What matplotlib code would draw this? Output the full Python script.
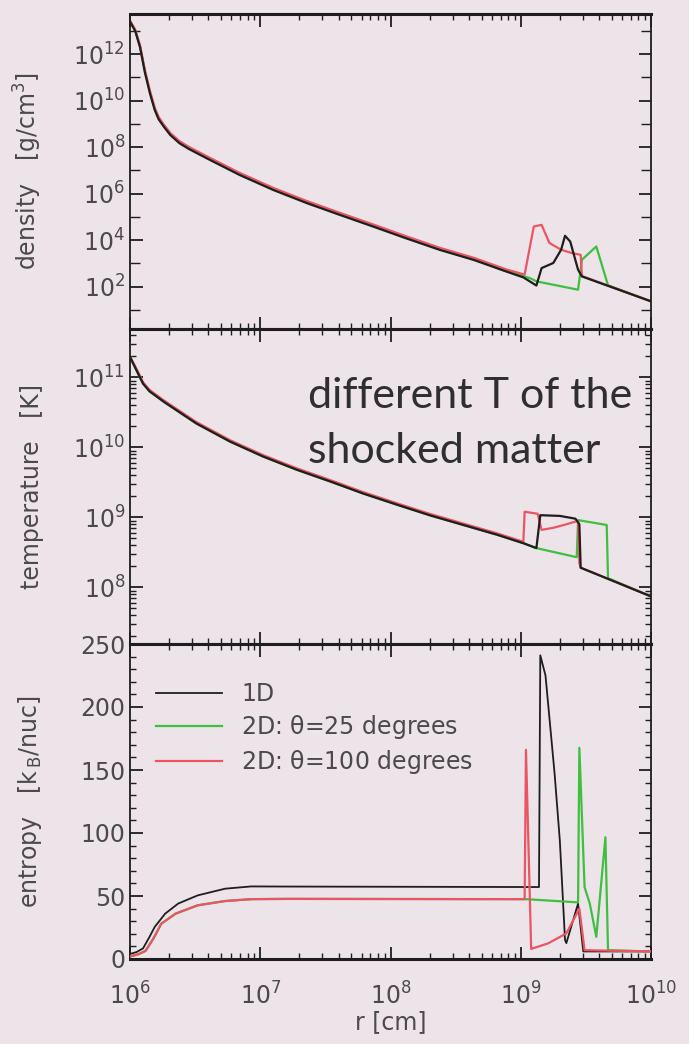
import numpy as np
import matplotlib
matplotlib.use("Agg")
import matplotlib.pyplot as plt
from matplotlib.ticker import LogLocator, FixedLocator, MultipleLocator, NullFormatter, FuncFormatter

# ---------------- data (log10 r [cm]) ----------------
# density (log10 rho [g/cm^3])
dens_1d_lr  = [6.0, 6.04, 6.077, 6.115, 6.154, 6.19, 6.22, 6.26, 6.31, 6.38, 6.45, 6.59, 6.84, 7.10, 7.36, 7.61, 7.87, 8.12, 8.38, 8.64, 8.89, 9.02, 9.12, 9.16, 9.25, 9.31, 9.34, 9.38, 9.44, 9.47, 10.0]
dens_1d     = [13.4, 13.0, 12.3, 11.2, 10.3, 9.6, 9.2, 8.88, 8.52, 8.17, 7.93, 7.52, 6.81, 6.16, 5.59, 5.09, 4.58, 4.08, 3.58, 3.15, 2.65, 2.40, 2.05, 2.80, 3.02, 3.59, 4.19, 3.94, 2.73, 2.44, 1.37]
dens_25_lr  = [6.0, 6.04, 6.077, 6.115, 6.154, 6.19, 6.22, 6.26, 6.31, 6.38, 6.45, 6.59, 6.84, 7.10, 7.36, 7.61, 7.87, 8.12, 8.38, 8.64, 8.89, 9.07, 9.12, 9.44, 9.47, 9.58, 9.67, 10.0]
dens_25     = [13.42, 13.03, 12.34, 11.25, 10.35, 9.65, 9.25, 8.92, 8.56, 8.21, 7.97, 7.56, 6.85, 6.2, 5.63, 5.13, 4.62, 4.12, 3.62, 3.19, 2.69, 2.37, 2.23, 1.87, 3.16, 3.73, 2.06, 1.37]
dens_100_lr = [6.0, 6.04, 6.077, 6.115, 6.154, 6.19, 6.22, 6.26, 6.31, 6.38, 6.45, 6.59, 6.84, 7.10, 7.36, 7.61, 7.87, 8.12, 8.38, 8.64, 8.89, 9.03, 9.10, 9.16, 9.22, 9.31, 9.39, 9.46, 9.47, 10.0]
dens_100    = [13.45, 13.05, 12.38, 11.3, 10.4, 9.7, 9.3, 8.97, 8.61, 8.26, 8.02, 7.61, 6.9, 6.25, 5.68, 5.18, 4.67, 4.17, 3.67, 3.24, 2.74, 2.52, 4.59, 4.66, 3.88, 3.59, 3.45, 3.37, 2.46, 1.37]

# temperature (log10 T [K])
temp_1d_lr  = [6.0, 6.05, 6.10, 6.15, 6.26, 6.51, 6.77, 7.02, 7.28, 7.54, 7.79, 8.05, 8.30, 8.56, 8.82, 9.02, 9.12, 9.15, 9.3, 9.42, 9.45, 9.46, 10.0]
temp_1d     = [11.29, 11.10, 10.91, 10.8, 10.65, 10.34, 10.08, 9.87, 9.68, 9.51, 9.34, 9.18, 9.03, 8.89, 8.75, 8.63, 8.56, 9.03, 9.02, 8.98, 8.9, 8.28, 7.87]
temp_25_lr  = [6.0, 6.05, 6.10, 6.15, 6.26, 6.51, 6.77, 7.02, 7.28, 7.54, 7.79, 8.05, 8.30, 8.56, 8.82, 9.02, 9.12, 9.43, 9.44, 9.66, 9.67, 10.0]
temp_25     = [11.29, 11.10, 10.91, 10.8, 10.65, 10.34, 10.08, 9.87, 9.68, 9.51, 9.34, 9.18, 9.03, 8.89, 8.75, 8.63, 8.56, 8.43, 8.96, 8.89, 8.13, 7.87]
temp_100_lr = [6.0, 6.05, 6.10, 6.15, 6.26, 6.51, 6.77, 7.02, 7.28, 7.54, 7.79, 8.05, 8.30, 8.56, 8.82, 9.02, 9.03, 9.13, 9.16, 9.25, 9.35, 9.44, 9.45, 9.46, 10.0]
temp_100    = [11.30, 11.12, 10.93, 10.82, 10.67, 10.36, 10.1, 9.89, 9.7, 9.53, 9.36, 9.2, 9.05, 8.91, 8.77, 8.65, 9.08, 9.05, 8.82, 8.85, 8.9, 8.95, 8.35, 8.28, 7.87]

# entropy (k_B / nucleon)
ent_1d_lr  = [6.0, 6.05, 6.10, 6.15, 6.19, 6.27, 6.37, 6.52, 6.73, 6.93, 7.2, 9.14, 9.15, 9.19, 9.26, 9.30, 9.34, 9.35, 9.44, 9.48, 10.0]
ent_1d     = [4, 5.5, 8.4, 17.6, 25.5, 36, 44, 50.5, 55.8, 57.6, 57.5, 57.1, 241, 225, 147, 94, 15, 12.6, 44, 6, 6]
ent_25_lr  = [6.0, 6.07, 6.12, 6.18, 6.24, 6.35, 6.52, 6.73, 6.93, 7.2, 9.04, 9.43, 9.44, 9.45, 9.49, 9.53, 9.58, 9.65, 9.67, 10.0]
ent_25     = [2, 4, 6.5, 16.3, 28, 36, 42.6, 46, 47.5, 47.7, 47.5, 45, 45, 167.6, 57, 44, 17.6, 96.6, 7, 6]
ent_100_lr = [6.0, 6.07, 6.12, 6.18, 6.24, 6.35, 6.52, 6.73, 6.93, 7.2, 9.03, 9.04, 9.08, 9.21, 9.35, 9.45, 9.49, 10.0]
ent_100    = [2, 4, 6.5, 16.3, 28, 36, 42.6, 46, 47.5, 47.7, 47.5, 166, 8, 12.4, 20.3, 40, 7, 6]

series_labels = ["1D", r"2D: $\theta$=25 degrees", r"2D: $\theta$=100 degrees"]
xtick_exps = [6, 7, 8, 9, 10]

# ---------------- style ----------------
BG = "#ece4e9"
C_BLACK = "#1e1e1e"
C_GREEN = "#3fbf3f"
C_RED = "#ea5563"
TXT = "#4a4a4a"

plt.rcParams['font.family'] = ['DejaVu Sans']
plt.rcParams['mathtext.default'] = 'regular'

fig = plt.figure(figsize=(6.89, 10.44), dpi=100, facecolor=BG)
L, W = 130/689, 521/689
H = 315/1044
ax1 = fig.add_axes([L, 1 - 329/1044, W, H])
ax2 = fig.add_axes([L, 1 - 644/1044, W, H])
ax3 = fig.add_axes([L, 1 - 959/1044, W, H])

def p(v):
    return [10.0**x for x in v]

lw = 1.6
# density
ax1.plot(p(dens_25_lr), p(dens_25), color=C_GREEN, lw=lw)
ax1.plot(p(dens_100_lr), p(dens_100), color=C_RED, lw=lw)
ax1.plot(p(dens_1d_lr), p(dens_1d), color=C_BLACK, lw=lw)
# temperature
ax2.plot(p(temp_25_lr), p(temp_25), color=C_GREEN, lw=lw)
ax2.plot(p(temp_100_lr), p(temp_100), color=C_RED, lw=lw)
ax2.plot(p(temp_1d_lr), p(temp_1d), color=C_BLACK, lw=lw)
# entropy
l1, = ax3.plot(p(ent_1d_lr), ent_1d, color=C_BLACK, lw=1.3, label=series_labels[0], zorder=2)
l2, = ax3.plot(p(ent_25_lr), ent_25, color=C_GREEN, lw=lw, label=series_labels[1], zorder=3)
l3, = ax3.plot(p(ent_100_lr), ent_100, color=C_RED, lw=lw, label=series_labels[2], zorder=4)

for ax in (ax1, ax2, ax3):
    ax.set_facecolor(BG)
    ax.set_xscale('log')
    ax.set_xlim(1e6, 1e10)
    ax.xaxis.set_major_locator(FixedLocator([10.0**e for e in xtick_exps]))
    ax.xaxis.set_minor_locator(LogLocator(base=10, subs=np.arange(2, 10), numticks=20))
    ax.tick_params(which='both', direction='in', top=True, right=True, colors=C_BLACK,
                   labelcolor=TXT, labelsize=17)
    ax.tick_params(which='major', length=9, width=1.3)
    ax.tick_params(which='minor', length=4.5, width=1.0)
    for s in ('top', 'bottom'):
        ax.spines[s].set_linewidth(2.2)
    for s in ('left', 'right'):
        ax.spines[s].set_linewidth(1.3)
    for s in ax.spines.values():
        s.set_color(C_BLACK)

for ax in (ax1, ax2):
    ax.tick_params(labelbottom=False)

def sci(v, pos):
    e = int(round(np.log10(v)))
    return r'$10^{%d}$' % e

# density axis
ax1.set_yscale('log')
ax1.set_ylim(10**0.18, 10**13.73)
ax1.yaxis.set_major_locator(FixedLocator([10.0**e for e in [2, 4, 6, 8, 10, 12]]))
ax1.yaxis.set_minor_locator(FixedLocator([10.0**e for e in [1, 3, 5, 7, 9, 11, 13]]))
ax1.yaxis.set_major_formatter(FuncFormatter(sci))
ax1.yaxis.set_minor_formatter(NullFormatter())
ax1.tick_params(axis='y', which='minor', length=7)

# temperature axis
ax2.set_yscale('log')
ax2.set_ylim(10**7.19, 10**11.69)
ax2.yaxis.set_major_locator(FixedLocator([1e8, 1e9, 1e10, 1e11]))
ax2.yaxis.set_minor_locator(LogLocator(base=10, subs=np.arange(2, 10), numticks=20))
ax2.yaxis.set_major_formatter(FuncFormatter(sci))
ax2.yaxis.set_minor_formatter(NullFormatter())

# entropy axis
ax3.set_ylim(0, 250)
ax3.yaxis.set_major_locator(MultipleLocator(50))
ax3.yaxis.set_minor_locator(MultipleLocator(10))
ax3.xaxis.set_major_formatter(FuncFormatter(sci))
ax3.xaxis.set_minor_formatter(NullFormatter())
ax3.tick_params(axis='x', pad=17)

ylab_kw = dict(fontsize=17, color=TXT)
ax1.set_ylabel(r"density   [g/cm$^3$]", **ylab_kw)
ax2.set_ylabel(r"temperature   [K]", **ylab_kw)
ax3.set_ylabel(r"entropy   [k$_{\,B}$/nuc]", **ylab_kw)
for ax in (ax1, ax2, ax3):
    ax.yaxis.set_label_coords(-0.165, 0.5)
ax3.set_xlabel("r [cm]", fontsize=17, color=TXT, labelpad=0)

leg = ax3.legend(handles=[l1, l2, l3], loc='upper left', bbox_to_anchor=(0.05, 0.88),
                 frameon=False, fontsize=17, handlelength=2.8, handletextpad=0.8,
                 labelspacing=0.3, borderpad=0, borderaxespad=0)
for t in leg.get_texts():
    t.set_color(TXT)

fig.text(308/689, 1 - 408/1044, "different T of the", fontsize=31, color="#2f2f2f",
         family=['Lato', 'DejaVu Sans'], va='baseline', ha='left')
fig.text(308/689, 1 - 463/1044, "shocked matter", fontsize=31, color="#2f2f2f",
         family=['Lato', 'DejaVu Sans'], va='baseline', ha='left')

fig.savefig("out.png", dpi=100, facecolor=BG)
